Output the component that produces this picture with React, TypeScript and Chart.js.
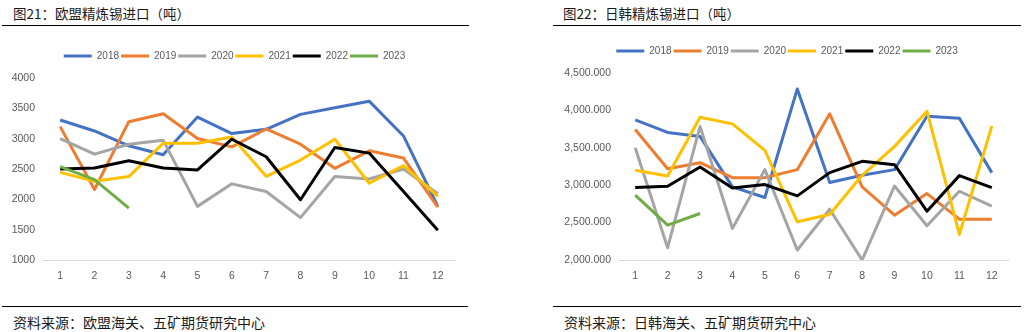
import React, { useEffect, useRef } from 'react';
import { Chart, registerables } from 'chart.js';

Chart.register(...registerables);

// ---- data ----
const months = ['1', '2', '3', '4', '5', '6', '7', '8', '9', '10', '11', '12'];
const years = ['2018', '2019', '2020', '2021', '2022', '2023'];
const colors = ['#4472C4', '#ED7D31', '#A5A5A5', '#FFC000', '#000000', '#70AD47'];

// 欧盟精炼锡进口（吨）
const eu2018 = [3307, 3127, 2882, 2735, 3356, 3084, 3155, 3400, 3509, 3618, 3045, 1884];
const eu2019 = [3198, 2162, 3280, 3411, 3002, 2865, 3160, 2909, 2511, 2800, 2680, 1873];
const eu2020 = [3002, 2745, 2909, 2975, 1884, 2255, 2129, 1698, 2375, 2336, 2500, 2091];
const eu2021 = [2445, 2298, 2375, 2925, 2925, 3029, 2380, 2647, 2991, 2265, 2555, 2047];
const eu2022 = [2500, 2516, 2636, 2516, 2484, 2991, 2702, 1993, 2855, 2762, 2129, 1491];
const eu2023 = [2538, 2325, 1856];

// 日韩精炼锡进口（吨）
const jk2018 = [3874, 3705, 3652, 2977, 2835, 4287, 3035, 3132, 3208, 3923, 3896, 3168];
const jk2019 = [3745, 3221, 3301, 3101, 3101, 3208, 3954, 2977, 2599, 2888, 2546, 2546];
const jk2020 = [3501, 2164, 3785, 2422, 3208, 2133, 2679, 2000, 2990, 2457, 2919, 2719];
const jk2021 = [3199, 3123, 3909, 3820, 3465, 2511, 2608, 3132, 3519, 3989, 2342, 3790];
const jk2022 = [2968, 2986, 3243, 2964, 3008, 2857, 3168, 3319, 3274, 2653, 3128, 2968];
const jk2023 = [2866, 2466, 2622];

const euSeries = [eu2018, eu2019, eu2020, eu2021, eu2022, eu2023];
const jkSeries = [jk2018, jk2019, jk2020, jk2021, jk2022, jk2023];

const euTitle = '图21：欧盟精炼锡进口（吨）';
const jkTitle = '图22：日韩精炼锡进口（吨）';
const euSource = '资料来源：欧盟海关、五矿期货研究中心';
const jkSource = '资料来源：日韩海关、五矿期货研究中心';

const TICK_FONT = { family: '"Liberation Sans", Arial, sans-serif', size: 10.5 };
const TICK_COLOR = '#595959';

const legendTweak = {
  id: 'legendTweak',
  beforeLayout(chart: any) {
    const lg = chart.legend;
    if (lg && !lg.__patched) {
      const orig = lg.fit;
      lg.fit = function () {
        orig.call(this);
        this.height += 7;
      };
      lg.__patched = true;
    }
  },
  afterLayout(chart: any, _args: any, opts: any) {
    const lg = chart.legend;
    const dx = (opts && opts.dx) || 0;
    if (lg) {
      lg.left += dx;
      lg.right += dx;
    }
  },
};

type PanelProps = {
  series: number[][];
  min: number;
  max: number;
  step: number;
  yFormat: (v: number) => string;
  left: number;
  top: number;
  width: number;
  height: number;
  padRight: number;
  yWidth: number;
  legendDx: number;
};

function LinePanel(p: PanelProps) {
  const ref = useRef<HTMLCanvasElement | null>(null);
  useEffect(() => {
    if (!ref.current) return;
    const chart = new Chart(ref.current, {
      type: 'line',
      data: {
        labels: months,
        datasets: p.series.map((s, i) => ({
          label: years[i],
          data: s,
          borderColor: colors[i],
          backgroundColor: colors[i],
          borderWidth: 3,
          pointRadius: 0,
          pointHoverRadius: 0,
          tension: 0,
          fill: false,
          borderJoinStyle: 'round' as const,
          order: p.series.length - i,
        })),
      },
      options: {
        animation: false,
        responsive: false,
        maintainAspectRatio: false,
        layout: { padding: { left: 0, right: p.padRight, top: 14, bottom: 0 } },
        plugins: {
          tooltip: { enabled: false },
          legendTweak: { dx: p.legendDx },
          legend: {
            display: true,
            position: 'top',
            labels: {
              boxWidth: 28,
              boxHeight: 3,
              padding: 2,
              color: TICK_COLOR,
              font: { family: '"Liberation Sans", Arial, sans-serif', size: 10 },
              sort: (a: any, b: any) => a.datasetIndex - b.datasetIndex,
              generateLabels: (c: any) =>
                (Chart.defaults.plugins.legend.labels.generateLabels as any)(c).map((l: any) => ({
                  ...l,
                  fillStyle: l.strokeStyle,
                  lineWidth: 0,
                })),
            },
          },
        },
        scales: {
          x: {
            type: 'category',
            offset: true,
            grid: { display: false, drawTicks: false },
            border: { display: true, color: '#D9D9D9', width: 1 },
            ticks: { color: TICK_COLOR, font: TICK_FONT, padding: 10, maxRotation: 0, autoSkip: false },
            afterFit: (s: any) => {
              s.height = 25;
            },
          },
          y: {
            min: p.min,
            max: p.max,
            grid: { display: false, drawTicks: false },
            border: { display: false },
            ticks: {
              stepSize: p.step,
              color: TICK_COLOR,
              font: TICK_FONT,
              padding: 8,
              callback: (v: any) => p.yFormat(Number(v)),
            },
            afterFit: (s: any) => {
              s.width = p.yWidth;
            },
          },
        },
      },
      plugins: [legendTweak],
    } as any);
    return () => chart.destroy();
  }, []);
  return (
    <canvas
      ref={ref}
      width={p.width}
      height={p.height}
      style={{ position: 'absolute', left: p.left, top: p.top, width: p.width, height: p.height }}
    />
  );
}

const cjk = '"Noto Sans CJK SC", "Noto Sans", sans-serif';

function Text(props: { x: number; y: number; size: number; children: string }) {
  return (
    <div
      style={{
        position: 'absolute',
        left: props.x,
        top: props.y,
        fontFamily: cjk,
        fontSize: props.size,
        lineHeight: '16px',
        color: '#1a1a1a',
        whiteSpace: 'nowrap',
      }}
    >
      {props.children}
    </div>
  );
}

function Rule(props: { x1: number; x2: number; y: number }) {
  return (
    <div
      style={{
        position: 'absolute',
        left: props.x1,
        top: props.y,
        width: props.x2 - props.x1,
        height: 1,
        background: '#000',
      }}
    />
  );
}

export default function App() {
  return (
    <div
      style={{
        position: 'absolute',
        left: 0,
        top: 0,
        width: 1027,
        height: 332,
        background: '#fff',
        overflow: 'hidden',
      }}
    >
      <Text x={13} y={5} size={13.5}>{euTitle}</Text>
      <Rule x1={2} x2={469} y={25} />
      <Text x={563} y={5} size={13.5}>{jkTitle}</Text>
      <Rule x1={553} x2={1021} y={25} />

      <LinePanel
        series={euSeries}
        min={1000}
        max={4000}
        step={500}
        yFormat={(v) => String(v)}
        left={0}
        top={35}
        width={470}
        height={250}
        padRight={15}
        yWidth={43}
        legendDx={7}
      />
      <LinePanel
        series={jkSeries}
        min={2000}
        max={4500}
        step={500}
        yFormat={(v) => v.toLocaleString('en-US', { minimumFractionDigits: 3, maximumFractionDigits: 3 })}
        left={520}
        top={30}
        width={507}
        height={255}
        padRight={19}
        yWidth={99}
        legendDx={23}
      />

      <Rule x1={2} x2={468} y={306} />
      <Text x={13} y={314} size={14}>{euSource}</Text>
      <Rule x1={553} x2={1021} y={306} />
      <Text x={564} y={314} size={14}>{jkSource}</Text>
    </div>
  );
}
